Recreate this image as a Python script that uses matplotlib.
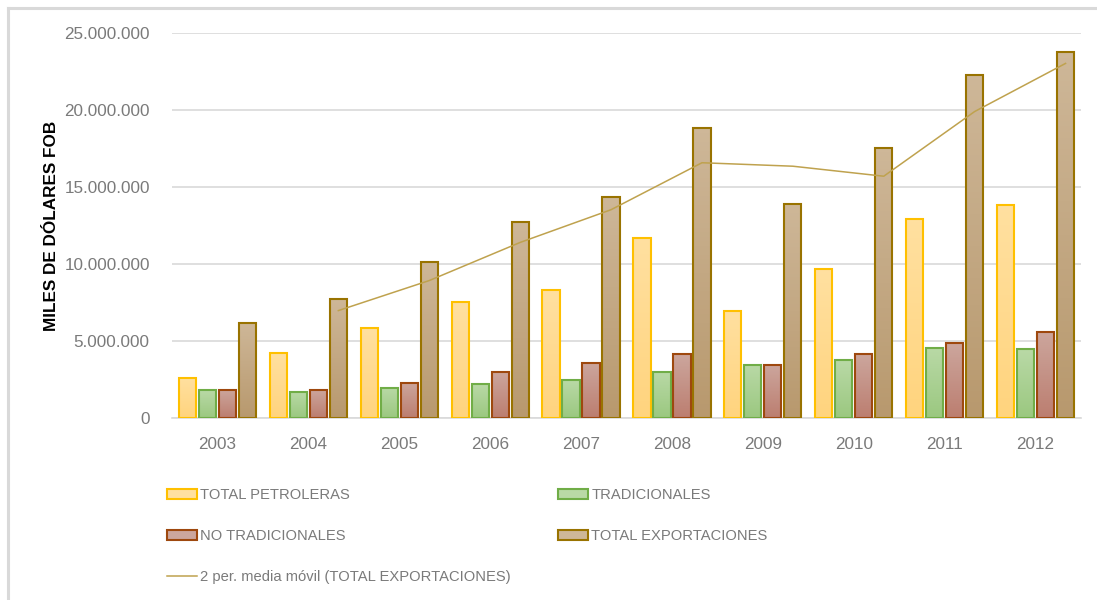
import numpy as np
import pandas as pd
import matplotlib
matplotlib.use("Agg")
import matplotlib.pyplot as plt
from matplotlib.patches import Patch
from matplotlib.lines import Line2D
from matplotlib.ticker import FuncFormatter
from matplotlib.colors import LinearSegmentedColormap

# data (miles de dolares FOB)
years = ["2003", "2004", "2005", "2006", "2007", "2008", "2009", "2010", "2011", "2012"]
petroleras = [2600000, 4250000, 5850000, 7550000, 8300000, 11700000, 6950000, 9650000, 12900000, 13800000]
tradicionales = [1800000, 1700000, 1950000, 2200000, 2450000, 3000000, 3450000, 3750000, 4550000, 4450000]
no_tradicionales = [1850000, 1850000, 2300000, 3000000, 3600000, 4150000, 3450000, 4150000, 4850000, 5600000]
total_export = [6200000, 7750000, 10100000, 12700000, 14350000, 18800000, 13900000, 17500000, 22300000, 23750000]

series_names = ["TOTAL PETROLERAS", "TRADICIONALES", "NO TRADICIONALES", "TOTAL EXPORTACIONES"]
series_vals = [petroleras, tradicionales, no_tradicionales, total_export]

# (top color, bottom color, edge color)
styles = [
    ("#FFE0A0", "#FFD47E", "#FFC000"),
    ("#B9D9A6", "#9BC880", "#70AD47"),
    ("#CCA69D", "#BC7E70", "#9E480E"),
    ("#CEB798", "#B8996E", "#997300"),
]
ma_color = "#BFA24E"
text_gray = "#7A7A7A"
grid_gray = "#D9D9D9"

font_main = ["Liberation Sans", "DejaVu Sans"]

fig = plt.figure(figsize=(10.97, 6.0), dpi=100)
ax = fig.add_axes([172 / 1097, 1 - 418 / 600, (1081 - 172) / 1097, (418 - 33) / 600])

x = np.arange(len(years))
offsets = [-0.33, -0.11, 0.11, 0.33]
width = 0.19

ax.set_xlim(-0.5, len(years) - 0.5)
ax.set_ylim(0, 25000000)

for vals, off, (c_top, c_bot, c_edge), name in zip(series_vals, offsets, styles, series_names):
    bars = ax.bar(x + off, vals, width, color="none", edgecolor=c_edge, linewidth=1.5, zorder=3)
    cmap = LinearSegmentedColormap.from_list(name, [c_bot, c_top])
    for b in bars:
        bx, by = b.get_x(), b.get_y()
        bw, bh = b.get_width(), b.get_height()
        grad = np.linspace(0, 1, 64).reshape(-1, 1)
        im = ax.imshow(grad, cmap=cmap, origin="lower", aspect="auto",
                       extent=[bx, bx + bw, by, by + bh], zorder=2)
        im.set_clip_path(b)

ax.set_xlim(-0.5, len(years) - 0.5)
ax.set_ylim(0, 25000000)

# 2 period moving average of total exports, drawn at the total bar positions
ma = pd.Series(total_export).rolling(2).mean()
ax.plot(x[1:] + offsets[3], ma.values[1:], color=ma_color, linewidth=1.1, zorder=4)

ax.set_yticks(np.arange(0, 25000001, 5000000))
ax.yaxis.set_major_formatter(FuncFormatter(lambda v, p: f"{int(v):,}".replace(",", ".")))
ax.set_xticks(x)
ax.set_xticklabels(years)
ax.grid(axis="y", color=grid_gray, linewidth=1.2, zorder=0)
ax.set_axisbelow(True)
for s in ["top", "right", "left"]:
    ax.spines[s].set_visible(False)
ax.spines["bottom"].set_color(grid_gray)
ax.spines["bottom"].set_linewidth(1.2)
ax.tick_params(axis="both", length=0, labelcolor=text_gray, labelsize=12.3)
ax.tick_params(axis="y", pad=16)
ax.tick_params(axis="x", pad=14)
for lab in ax.get_xticklabels() + ax.get_yticklabels():
    lab.set_family(font_main)

ax.set_ylabel("MILES DE DÓLARES FOB", fontsize=12.3, fontweight="bold",
              family=font_main, color="black")
ax.yaxis.set_label_coords(-0.1243, 0.5)

# legend, two columns placed by hand
def patch(i):
    return Patch(facecolor=styles[i][0], edgecolor=styles[i][2], linewidth=1.5)

leg_kw = dict(frameon=False, loc="upper left", borderpad=0, borderaxespad=0,
              handlelength=2.05, handleheight=0.7, handletextpad=0.2, labelspacing=1.84,
              labelcolor=text_gray, prop={"family": font_main, "size": 10.6})
h1 = [patch(0), patch(2), Line2D([0], [0], color=ma_color, linewidth=1.1)]
l1 = ["TOTAL PETROLERAS", "NO TRADICIONALES", "2 per. media móvil (TOTAL EXPORTACIONES)"]
leg1 = fig.legend(h1, l1, bbox_to_anchor=(167 / 1097, 1 - 488 / 600), **leg_kw)
h2 = [patch(1), patch(3)]
l2 = ["TRADICIONALES", "TOTAL EXPORTACIONES"]
leg2 = fig.legend(h2, l2, bbox_to_anchor=(558 / 1097, 1 - 488 / 600), **leg_kw)

# chart area border (top and left visible)
fig.add_artist(Line2D([8 / 1097, 1.0], [1 - 8 / 600, 1 - 8 / 600], color=grid_gray, linewidth=2.2))
fig.add_artist(Line2D([8 / 1097, 8 / 1097], [0, 1 - 8 / 600], color=grid_gray, linewidth=2.2))

fig.savefig("out.png", dpi=100, facecolor="white")
